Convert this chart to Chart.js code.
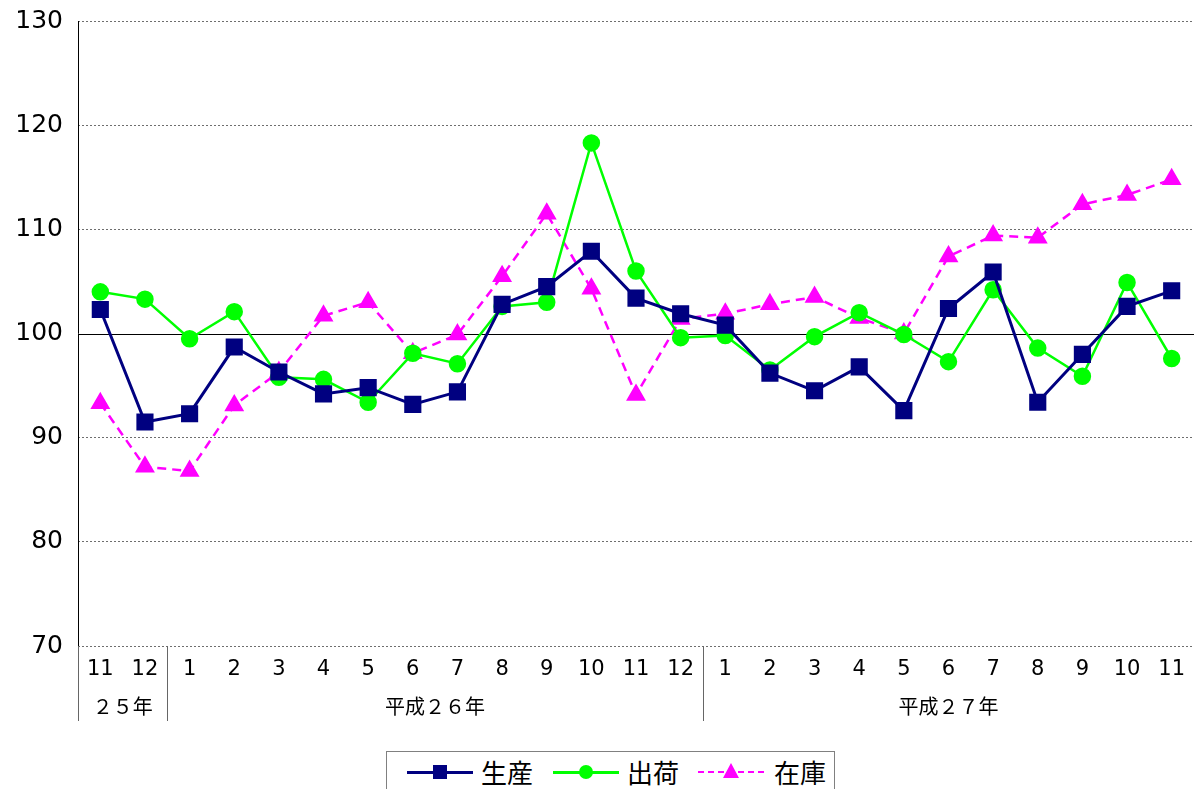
<!DOCTYPE html>
<html>
<head>
<meta charset="utf-8">
<script src="https://cdn.jsdelivr.net/npm/chart.js@4/dist/chart.umd.min.js"></script>
<style>
  body { margin: 0; width: 1194px; height: 789px; overflow: hidden; background: #fff;
         font-family: "Noto Sans CJK JP", sans-serif; }
  #wrap { position: relative; width: 1194px; height: 789px; }
  #legend { position: absolute; left: 386px; top: 751px; width: 447px; height: 50px;
            border: 1px solid #808080; background: #fff; }
  .txt { position: absolute; top: 2px; font-size: 26px; line-height: 36px; color: #000; white-space: nowrap; }
  .ln { position: absolute; top: 19px; height: 0; }
  .mk { position: absolute; }
</style>
</head>
<body>
<div id="wrap">
  <canvas id="chart" width="1194" height="789"></canvas>
  <div id="legend"></div>
</div>
<script>
const categories = ["11", "12", "1", "2", "3", "4", "5", "6", "7", "8", "9", "10", "11", "12",
                    "1", "2", "3", "4", "5", "6", "7", "8", "9", "10", "11"];
const yearLabels = ["２５年", "平成２６年", "平成２７年"];
const yearStart = [0, 2, 14];
const yearEnd = [1, 13, 24];

const seriesNames = ["生産", "出荷", "在庫"];
const production = [102.3, 91.5, 92.3, 98.7, 96.3, 94.2, 94.8, 93.2, 94.4, 102.8, 104.5, 107.9, 103.4, 101.9,
                    100.8, 96.2, 94.5, 96.8, 92.6, 102.4, 105.9, 93.4, 98.0, 102.6, 104.1];
const shipment = [104.0, 103.3, 99.5, 102.1, 95.8, 95.6, 93.4, 98.1, 97.1, 102.6, 103.0, 118.3, 106.0, 99.6,
                  99.8, 96.5, 99.7, 102.0, 99.9, 97.3, 104.2, 98.6, 95.9, 104.9, 97.6];
const inventory = [93.3, 87.2, 86.8, 93.1, 96.3, 101.7, 103.0, 98.1, 99.9, 105.5, 111.5, 104.3, 94.1, 101.4,
                   101.9, 102.8, 103.5, 101.5, 100.0, 107.4, 109.4, 109.2, 112.4, 113.3, 114.8];

const yMin = 70, yMax = 130, yStep = 10;
const font = '"Noto Sans CJK JP", sans-serif';
const numFont = '"DejaVu Sans", sans-serif';

// separators + year labels under the axis, solid 100 line
const extras = {
  id: "extras",
  beforeDatasetsDraw(chart) {
    const ctx = chart.ctx;
    const y = chart.scales.y;
    const area = chart.chartArea;
    const py = Math.round(y.getPixelForValue(100)) + 0.5;
    ctx.save();
    ctx.strokeStyle = "#000";
    ctx.lineWidth = 1;
    ctx.beginPath();
    ctx.moveTo(area.left, py);
    ctx.lineTo(area.right, py);
    ctx.stroke();
    ctx.restore();
  },
  afterDraw(chart) {
    const ctx = chart.ctx;
    const x = chart.scales.x;
    const area = chart.chartArea;
    const half = (x.getPixelForValue(1) - x.getPixelForValue(0)) / 2;
    const lx = Math.round(area.left) + 0.5;
    ctx.save();
    ctx.strokeStyle = "#000";
    ctx.lineWidth = 1;
    ctx.beginPath();
    ctx.moveTo(lx, area.top);
    ctx.lineTo(lx, area.bottom);
    ctx.stroke();
    ctx.strokeStyle = "#666";
    ctx.beginPath();
    ctx.moveTo(lx, area.bottom);
    ctx.lineTo(lx, area.bottom + 75);
    for (let i = 1; i < yearStart.length; i++) {
      const sx = Math.round(x.getPixelForValue(yearStart[i]) - half) + 0.5;
      ctx.moveTo(sx, area.bottom);
      ctx.lineTo(sx, area.bottom + 75);
    }
    ctx.stroke();
    ctx.fillStyle = "#000";
    ctx.font = "20px " + font;
    ctx.textAlign = "center";
    ctx.textBaseline = "middle";
    yearLabels.forEach((lab, i) => {
      const cx = (x.getPixelForValue(yearStart[i]) + x.getPixelForValue(yearEnd[i])) / 2;
      ctx.fillText(lab, cx, area.bottom + 60);
    });
    ctx.restore();
  }
};

new Chart(document.getElementById("chart"), {
  type: "line",
  data: {
    labels: categories,
    datasets: [
      {
        label: seriesNames[0],
        data: production,
        borderColor: "#000080",
        backgroundColor: "#000080",
        borderWidth: 3,
        pointStyle: "rect",
        pointRadius: 10,
        pointHoverRadius: 10,
        tension: 0,
      },
      {
        label: seriesNames[1],
        data: shipment,
        borderColor: "#00ff00",
        backgroundColor: "#00ff00",
        borderWidth: 2.5,
        pointStyle: "circle",
        pointRadius: 7.5,
        pointHoverRadius: 7.5,
        tension: 0,
      },
      {
        label: seriesNames[2],
        data: inventory,
        borderColor: "#ff00ff",
        backgroundColor: "#ff00ff",
        borderWidth: 2.5,
        borderDash: [9, 6],
        pointStyle: "triangle",
        pointRadius: 9,
        pointHoverRadius: 9,
        tension: 0,
      },
    ],
  },
  options: {
    responsive: false,
    animation: false,
    layout: { autoPadding: false, padding: { top: 21, right: 0, left: 0, bottom: 0 } },
    plugins: {
      legend: { display: false },
      tooltip: { enabled: false },
    },
    scales: {
      x: {
        offset: true,
        grid: { display: false },
        border: { display: false },
        ticks: {
          autoSkip: false,
          maxRotation: 0,
          color: "#000",
          padding: 3,
          font: { family: numFont, size: 21 },
        },
        afterFit(scale) {
          scale.height = 143;
          scale.paddingLeft = 0;
          scale.paddingRight = 0;
        },
      },
      y: {
        min: yMin,
        max: yMax,
        ticks: {
          stepSize: yStep,
          color: "#000",
          padding: 15,
          font: { family: numFont, size: 25 },
        },
        grid: {
          drawTicks: false,
          lineWidth: 1,
          color: (c) => (c.tick && c.tick.value === 100 ? "rgba(0,0,0,0)" : "#6e6e6e"),
        },
        border: { display: false, dash: [2, 2] },
        afterFit(scale) {
          scale.width = 78;
          scale.paddingTop = 0;
          scale.paddingBottom = 0;
        },
      },
    },
  },
  plugins: [extras],
});

// legend
const legendItems = [
  { name: seriesNames[0], color: "#000080", marker: "rect", dashed: false, lineX: 20, textX: 94 },
  { name: seriesNames[1], color: "#00ff00", marker: "circle", dashed: false, lineX: 166, textX: 240 },
  { name: seriesNames[2], color: "#ff00ff", marker: "triangle", dashed: true, lineX: 311, textX: 387 },
];
const legend = document.getElementById("legend");
legendItems.forEach((it) => {
  const ln = document.createElement("div");
  ln.className = "ln";
  ln.style.left = it.lineX + "px";
  ln.style.width = "66px";
  ln.style.borderTop = (it.dashed ? "2px dashed " : "3px solid ") + it.color;
  legend.appendChild(ln);
  const mk = document.createElement("div");
  mk.className = "mk";
  const cx = it.lineX + 33;
  if (it.marker === "rect") {
    Object.assign(mk.style, { left: cx - 7 + "px", top: "13px", width: "14px", height: "14px", background: it.color });
  } else if (it.marker === "circle") {
    Object.assign(mk.style, { left: cx - 7 + "px", top: "13px", width: "14px", height: "14px", background: it.color, borderRadius: "50%" });
  } else {
    Object.assign(mk.style, { left: cx - 8 + "px", top: "11px", width: 0, height: 0,
      borderLeft: "8px solid transparent", borderRight: "8px solid transparent", borderBottom: "15px solid " + it.color });
  }
  legend.appendChild(mk);
  const t = document.createElement("div");
  t.className = "txt";
  t.style.left = it.textX + "px";
  t.textContent = it.name;
  legend.appendChild(t);
});
</script>
</body>
</html>
